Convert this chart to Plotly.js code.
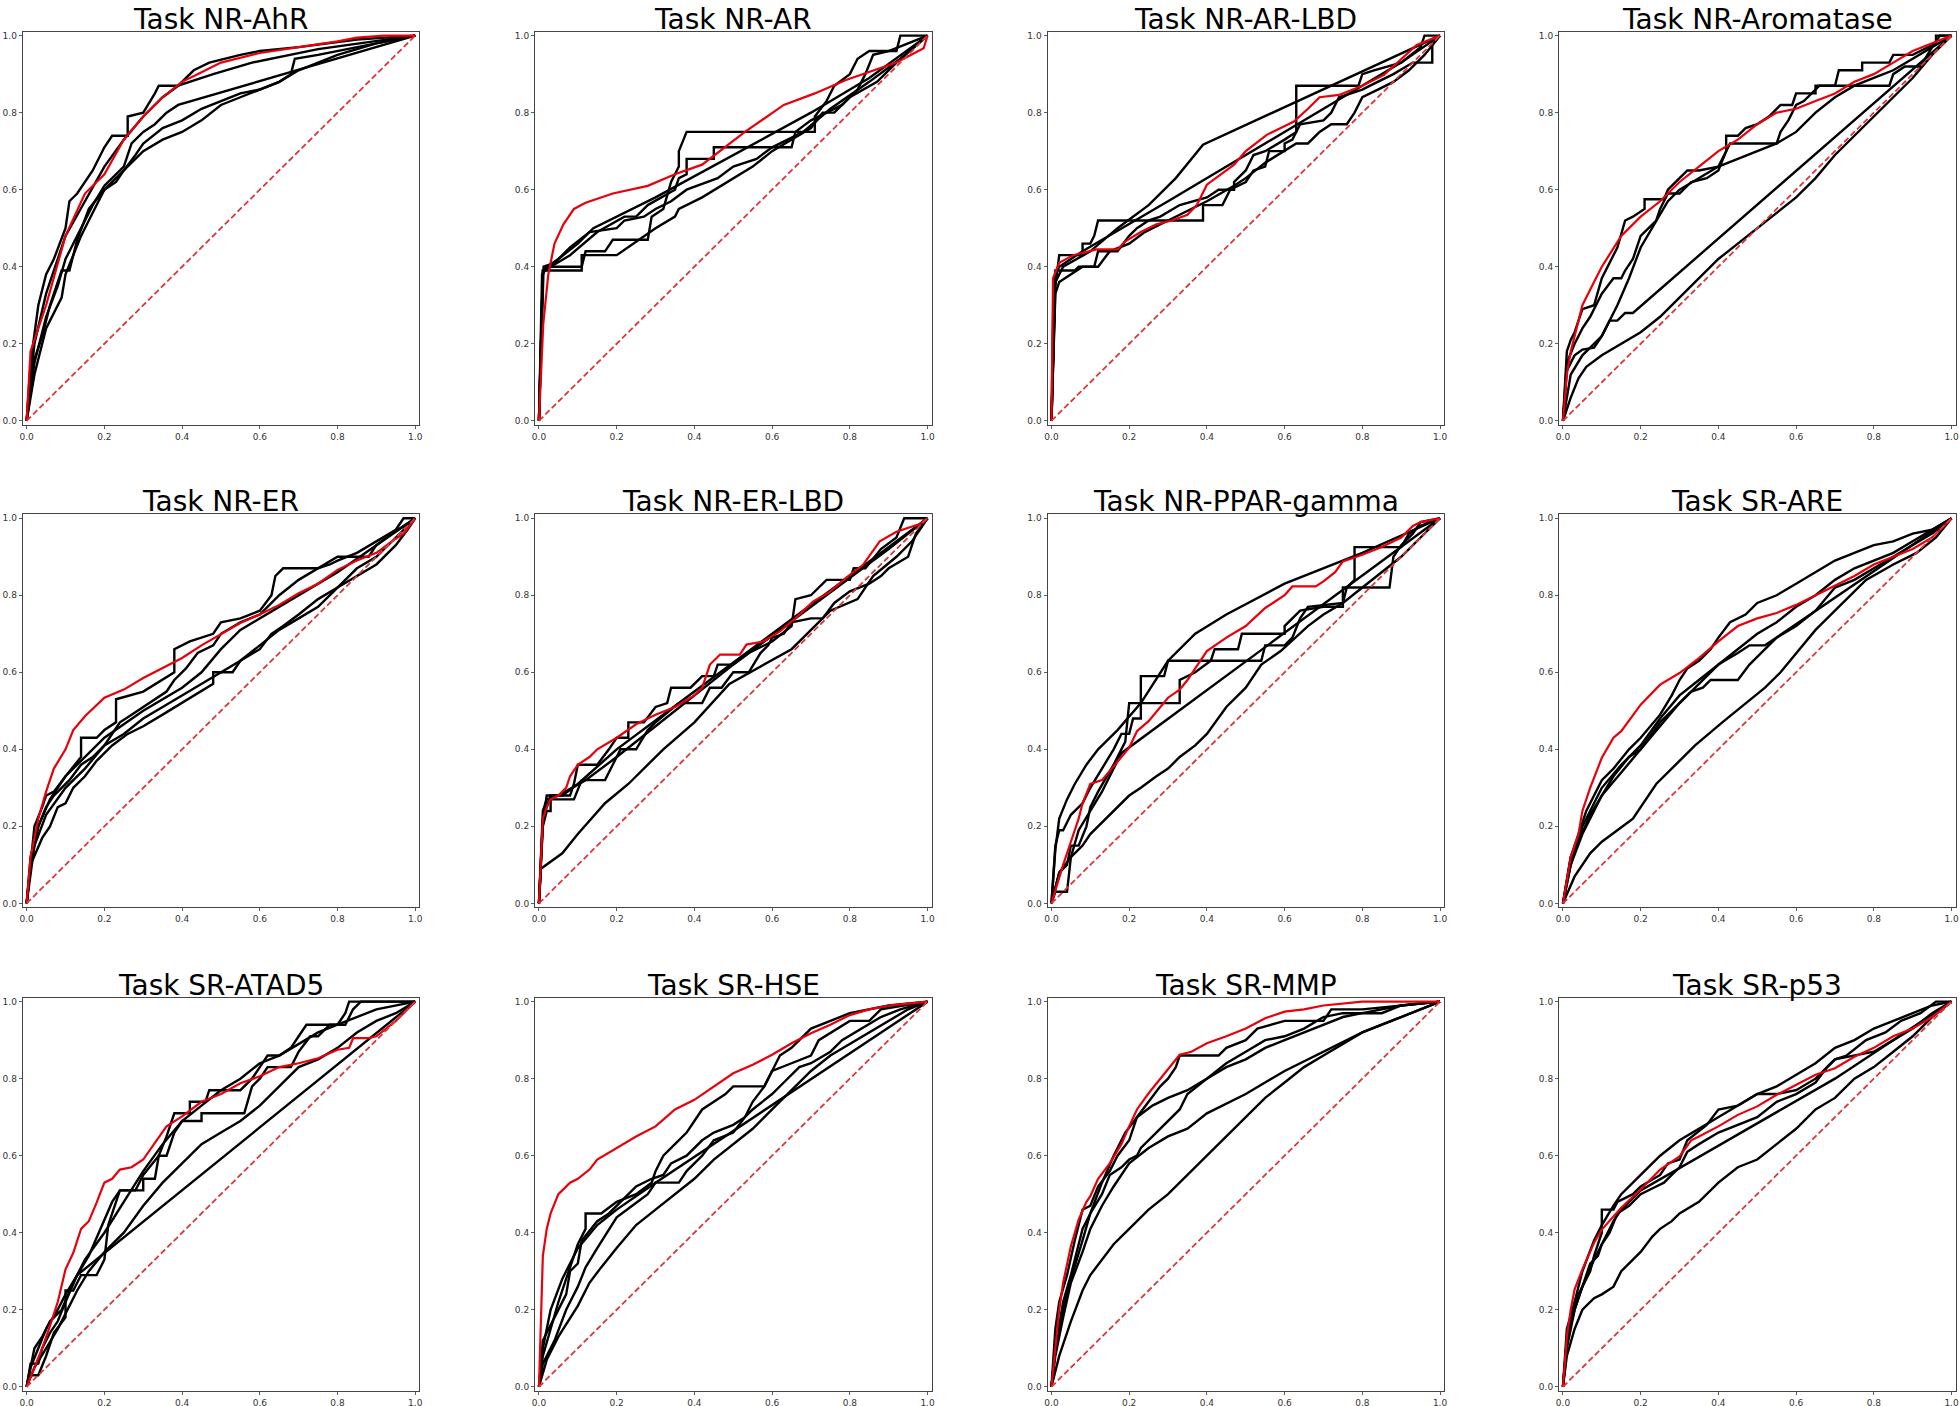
<!DOCTYPE html>
<html><head><meta charset="utf-8">
<script src="https://cdn.plot.ly/plotly-3.0.1.min.js"></script>
<style>html,body{margin:0;padding:0;background:#fff}</style>
</head><body><div id="chart" style="width:1960px;height:1406px"></div>
<script>
// ---- titles ----
const TASKS = ["Task NR-AhR","Task NR-AR","Task NR-AR-LBD","Task NR-Aromatase",
  "Task NR-ER","Task NR-ER-LBD","Task NR-PPAR-gamma","Task SR-ARE",
  "Task SR-ATAD5","Task SR-HSE","Task SR-MMP","Task SR-p53"];
const TICKS = [0,0.2,0.4,0.6,0.8,1.0];
const DIAG = [[0,0],[1,1]];

// ---- NR-AhR ---- (points are [FPR, TPR])
const AHR_B1=[[0,0],[0.01,0.15],[0.03,0.3],[0.05,0.38],[0.07,0.42],[0.1,0.5],[0.11,0.57],[0.13,0.59],[0.17,0.65],[0.2,0.71],[0.22,0.74],[0.26,0.74],[0.26,0.79],[0.3,0.8],[0.33,0.85],[0.34,0.87],[0.39,0.87],[0.43,0.91],[0.47,0.93],[0.55,0.95],[0.6,0.96],[0.7,0.97],[0.85,0.99],[1,1]];
const AHR_B2=[[0,0],[0.02,0.2],[0.05,0.33],[0.1,0.48],[0.15,0.57],[0.2,0.66],[0.25,0.73],[0.3,0.79],[0.35,0.84],[0.39,0.87],[0.48,0.9],[0.58,0.93],[0.75,0.965],[0.9,0.985],[1,1]];
const AHR_B3=[[0,0],[0.01,0.13],[0.04,0.22],[0.06,0.3],[0.09,0.39],[0.11,0.39],[0.13,0.47],[0.16,0.55],[0.2,0.6],[0.23,0.62],[0.25,0.65],[0.28,0.69],[0.3,0.72],[0.35,0.76],[0.4,0.78],[0.45,0.81],[0.5,0.83],[0.55,0.85],[0.6,0.86],[0.65,0.88],[0.68,0.9],[0.69,0.94],[0.75,0.95],[0.85,0.97],[1,1]];
const AHR_B4=[[0,0],[0.02,0.15],[0.05,0.27],[0.08,0.35],[0.1,0.42],[0.14,0.5],[0.17,0.56],[0.2,0.61],[0.25,0.66],[0.27,0.72],[0.3,0.75],[0.33,0.77],[0.36,0.8],[0.39,0.82],[1,1]];
const AHR_B5=[[0,0],[0.02,0.12],[0.05,0.24],[0.09,0.32],[0.1,0.38],[0.14,0.48],[0.17,0.54],[0.2,0.6],[0.25,0.65],[0.3,0.7],[0.35,0.73],[0.4,0.75],[0.45,0.78],[0.5,0.82],[0.55,0.84],[0.6,0.86],[0.65,0.88],[0.7,0.91],[0.8,0.95],[0.9,0.98],[1,1]];
const AHR_RED=[[0,0],[0.01,0.18],[0.05,0.3],[0.1,0.48],[0.15,0.59],[0.2,0.64],[0.25,0.73],[0.3,0.79],[0.35,0.84],[0.4,0.88],[0.45,0.905],[0.5,0.93],[0.6,0.955],[0.7,0.97],[0.8,0.985],[0.85,0.995],[0.92,1],[1,1]];

// ---- NR-AR ----
const AR_B1=[[0,0],[0.008,0.38],[0.02,0.4],[0.11,0.4],[0.12,0.44],[0.17,0.44],[0.19,0.47],[0.28,0.47],[0.29,0.53],[0.32,0.55],[0.34,0.62],[0.36,0.66],[0.36,0.7],[0.38,0.75],[0.71,0.75],[0.71,0.79],[0.74,0.83],[0.76,0.87],[0.8,0.9],[0.82,0.94],[0.85,0.96],[0.92,0.96],[0.93,1],[1,1]];
const AR_B2=[[0,0],[0.01,0.39],[0.03,0.4],[0.08,0.43],[0.15,0.49],[0.22,0.53],[0.25,0.53],[0.28,0.56],[0.35,0.6],[0.36,0.63],[0.38,0.64],[0.38,0.68],[0.45,0.68],[0.45,0.71],[0.65,0.71],[0.66,0.75],[0.7,0.78],[0.78,0.82],[0.82,0.86],[0.84,0.9],[0.86,0.95],[0.9,0.96],[1,1]];
const AR_B3=[[0,0],[0.01,0.38],[0.02,0.4],[0.05,0.42],[0.1,0.46],[0.14,0.5],[0.3,0.58],[0.5,0.69],[0.7,0.8],[0.85,0.89],[1,1]];
const AR_B4=[[0,0],[0.01,0.39],[0.11,0.39],[0.11,0.43],[0.2,0.43],[0.3,0.5],[0.35,0.53],[0.36,0.55],[0.42,0.58],[0.5,0.63],[0.55,0.66],[0.6,0.7],[0.7,0.76],[0.73,0.8],[0.76,0.8],[0.8,0.84],[0.87,0.88],[0.92,0.93],[1,1]];
const AR_B5=[[0,0],[0.012,0.4],[0.04,0.41],[0.08,0.45],[0.13,0.49],[0.2,0.5],[0.22,0.52],[0.27,0.53],[0.3,0.55],[0.34,0.57],[0.38,0.6],[0.46,0.63],[0.5,0.66],[0.56,0.68],[0.6,0.71],[0.68,0.75],[0.75,0.81],[0.85,0.88],[0.93,0.94],[1,1]];
const AR_RED=[[0,0],[0.011,0.25],[0.024,0.38],[0.04,0.46],[0.063,0.51],[0.09,0.55],[0.12,0.566],[0.19,0.59],[0.28,0.61],[0.35,0.64],[0.42,0.665],[0.53,0.75],[0.63,0.82],[0.71,0.85],[0.79,0.885],[0.92,0.93],[0.99,0.967],[1,1]];

// ---- NR-AR-LBD ----
const ARLBD_B1=[[0,0],[0.005,0.32],[0.01,0.36],[0.03,0.4],[0.1,0.44],[0.17,0.5],[0.25,0.56],[0.32,0.63],[0.39,0.717],[1,1]];
const ARLBD_B2=[[0,0],[0.01,0.38],[0.02,0.4],[0.08,0.44],[0.3,0.57],[0.5,0.69],[0.7,0.81],[0.9,0.93],[1,1]];
const ARLBD_B3=[[0,0],[0.01,0.35],[0.02,0.43],[0.08,0.43],[0.08,0.46],[0.1,0.46],[0.11,0.48],[0.12,0.52],[0.25,0.52],[0.28,0.53],[0.33,0.56],[0.4,0.58],[0.43,0.6],[0.47,0.6],[0.47,0.62],[0.5,0.65],[0.52,0.69],[0.55,0.7],[0.6,0.73],[0.63,0.75],[0.63,0.87],[0.79,0.87],[0.8,0.9],[0.83,0.91],[0.9,0.93],[0.95,0.97],[0.96,1],[1,1]];
const ARLBD_B4=[[0,0],[0.01,0.39],[0.06,0.39],[0.07,0.4],[0.11,0.4],[0.12,0.44],[0.17,0.44],[0.2,0.48],[0.22,0.5],[0.25,0.52],[0.39,0.52],[0.39,0.56],[0.44,0.56],[0.46,0.6],[0.5,0.62],[0.52,0.65],[0.55,0.66],[0.56,0.7],[0.6,0.7],[0.6,0.72],[0.62,0.73],[0.64,0.77],[0.7,0.78],[0.72,0.8],[0.74,0.84],[0.8,0.86],[0.82,0.87],[0.88,0.9],[0.93,0.93],[0.98,0.93],[0.98,0.99],[1,1]];
const ARLBD_B5=[[0,0],[0.01,0.33],[0.02,0.36],[0.05,0.38],[0.08,0.4],[0.12,0.4],[0.15,0.44],[0.2,0.46],[0.24,0.49],[0.3,0.52],[0.34,0.54],[0.4,0.57],[0.47,0.61],[0.5,0.63],[0.55,0.67],[0.6,0.7],[0.63,0.72],[0.66,0.72],[0.69,0.75],[0.72,0.77],[0.76,0.77],[0.78,0.8],[0.8,0.84],[0.84,0.86],[0.88,0.88],[0.92,0.91],[0.96,0.95],[1,1]];
const ARLBD_RED=[[0,0],[0.003,0.33],[0.004,0.37],[0.02,0.41],[0.056,0.43],[0.116,0.445],[0.17,0.445],[0.19,0.466],[0.23,0.49],[0.27,0.51],[0.31,0.52],[0.35,0.535],[0.374,0.56],[0.4,0.613],[0.435,0.64],[0.47,0.665],[0.5,0.7],[0.555,0.743],[0.59,0.76],[0.624,0.777],[0.66,0.81],[0.69,0.84],[0.74,0.846],[0.8,0.87],[0.856,0.898],[0.9,0.94],[0.94,0.976],[1,1]];

// ---- NR-Aromatase ----
const ARO_B1=[[0,0],[0.01,0.18],[0.02,0.21],[0.03,0.23],[0.05,0.29],[0.08,0.3],[0.1,0.37],[0.14,0.45],[0.16,0.52],[0.18,0.53],[0.21,0.55],[0.21,0.575],[0.26,0.575],[0.27,0.6],[0.3,0.63],[0.32,0.65],[0.35,0.65],[0.4,0.66],[0.42,0.7],[0.42,0.74],[0.45,0.74],[0.47,0.76],[0.5,0.77],[0.53,0.79],[0.56,0.82],[0.59,0.82],[0.6,0.85],[0.65,0.85],[0.65,0.87],[0.7,0.87],[0.71,0.91],[0.77,0.91],[0.77,0.93],[0.84,0.93],[0.85,0.95],[0.9,0.95],[0.96,0.98],[0.96,1],[1,1]];
const ARO_B2=[[0,0],[0.01,0.15],[0.03,0.2],[0.05,0.24],[0.07,0.27],[0.1,0.33],[0.13,0.37],[0.15,0.37],[0.16,0.39],[0.18,0.42],[0.2,0.48],[0.22,0.5],[0.24,0.52],[0.25,0.55],[0.27,0.59],[0.3,0.59],[0.33,0.62],[0.37,0.63],[0.4,0.65],[0.42,0.7],[0.43,0.72],[0.55,0.72],[0.56,0.75],[0.58,0.78],[0.6,0.82],[0.62,0.83],[0.64,0.85],[0.66,0.87],[0.84,0.87],[0.85,0.9],[0.88,0.92],[0.92,0.92],[0.95,0.97],[0.97,1],[1,1]];
const ARO_B3=[[0,0],[0.01,0.13],[0.03,0.17],[0.05,0.185],[0.08,0.19],[0.1,0.22],[0.14,0.3],[0.17,0.37],[0.2,0.45],[0.23,0.5],[0.27,0.57],[0.3,0.6],[0.35,0.63],[0.4,0.66],[0.45,0.68],[0.5,0.7],[0.55,0.72],[0.6,0.75],[0.65,0.8],[0.7,0.84],[0.75,0.87],[0.8,0.89],[0.85,0.91],[0.9,0.94],[0.95,0.97],[1,1]];
const ARO_B4=[[0,0],[0.02,0.12],[0.05,0.17],[0.08,0.2],[0.1,0.22],[0.12,0.26],[0.14,0.26],[0.16,0.28],[0.18,0.28],[1,1]];
const ARO_B5=[[0,0],[0.02,0.06],[0.04,0.11],[0.06,0.14],[0.1,0.17],[0.15,0.2],[0.2,0.23],[0.25,0.27],[0.3,0.32],[0.35,0.37],[0.4,0.42],[0.45,0.46],[0.5,0.5],[0.55,0.54],[0.6,0.58],[0.65,0.63],[0.7,0.69],[0.75,0.74],[0.8,0.79],[0.85,0.84],[0.9,0.89],[0.95,0.95],[1,1]];
const ARO_RED=[[0,0],[0.01,0.12],[0.02,0.18],[0.05,0.3],[0.08,0.36],[0.1,0.4],[0.15,0.48],[0.2,0.53],[0.25,0.57],[0.3,0.62],[0.35,0.66],[0.4,0.7],[0.45,0.73],[0.5,0.77],[0.55,0.8],[0.6,0.81],[0.65,0.83],[0.7,0.85],[0.75,0.88],[0.8,0.9],[0.85,0.93],[0.9,0.96],[0.95,0.98],[1,1]];

// ---- NR-ER ----
const ER_B1=[[0,0],[0.02,0.2],[0.04,0.25],[0.05,0.28],[0.07,0.29],[0.1,0.33],[0.14,0.38],[0.14,0.43],[0.18,0.43],[0.2,0.45],[0.23,0.47],[0.23,0.53],[0.3,0.55],[0.35,0.58],[0.38,0.6],[0.38,0.66],[0.42,0.68],[0.48,0.7],[0.5,0.73],[0.55,0.74],[0.6,0.76],[0.63,0.8],[0.64,0.85],[0.66,0.87],[0.75,0.87],[0.78,0.88],[0.8,0.89],[0.85,0.91],[0.9,0.94],[0.95,0.97],[0.97,1],[1,1]];
const ER_B2=[[0,0],[0.01,0.1],[0.03,0.2],[0.06,0.27],[0.1,0.33],[0.15,0.38],[0.2,0.43],[0.3,0.5],[0.4,0.56],[0.45,0.6],[0.5,0.66],[0.55,0.71],[0.6,0.74],[0.65,0.77],[0.7,0.8],[0.8,0.86],[0.9,0.93],[1,1]];
const ER_B3=[[0,0],[0.01,0.1],[0.04,0.17],[0.06,0.2],[0.08,0.25],[0.1,0.26],[0.12,0.3],[0.15,0.33],[0.18,0.37],[0.22,0.41],[0.26,0.44],[0.3,0.46],[0.35,0.49],[0.4,0.52],[0.45,0.55],[0.48,0.57],[0.48,0.6],[0.53,0.6],[0.55,0.63],[0.6,0.66],[0.63,0.7],[0.66,0.72],[0.7,0.75],[0.75,0.79],[0.8,0.82],[0.85,0.85],[0.9,0.88],[0.95,0.93],[0.98,0.97],[1,1]];
const ER_B4=[[0,0],[0.02,0.15],[0.05,0.23],[0.1,0.3],[0.15,0.35],[0.2,0.41],[0.25,0.44],[0.3,0.48],[0.35,0.51],[0.4,0.54],[0.45,0.57],[0.5,0.6],[0.55,0.63],[0.6,0.67],[0.65,0.71],[0.7,0.74],[0.75,0.77],[0.8,0.82],[0.85,0.87],[0.9,0.9],[0.95,0.95],[1,1]];
const ER_B5=[[0,0],[0.01,0.12],[0.03,0.2],[0.05,0.25],[0.07,0.28],[0.11,0.32],[0.14,0.36],[0.17,0.38],[0.2,0.41],[0.24,0.47],[0.27,0.49],[0.3,0.51],[0.36,0.55],[0.38,0.58],[0.41,0.61],[0.44,0.65],[0.48,0.67],[0.5,0.7],[0.55,0.73],[0.6,0.75],[0.65,0.8],[0.7,0.84],[0.75,0.87],[0.8,0.9],[0.88,0.9],[0.9,0.93],[0.94,0.96],[1,1]];
const ER_RED=[[0,0],[0.01,0.12],[0.03,0.22],[0.05,0.29],[0.07,0.35],[0.1,0.4],[0.12,0.45],[0.15,0.486],[0.2,0.534],[0.25,0.555],[0.3,0.585],[0.35,0.61],[0.4,0.637],[0.45,0.67],[0.5,0.7],[0.55,0.728],[0.6,0.75],[0.65,0.775],[0.7,0.805],[0.75,0.83],[0.8,0.866],[0.85,0.89],[0.9,0.91],[0.94,0.94],[0.97,0.96],[1,1]];

// ---- NR-ER-LBD ----
const ERLBD_B1=[[0,0],[0.005,0.09],[0.06,0.13],[0.1,0.18],[0.17,0.26],[0.23,0.31],[0.32,0.4],[0.4,0.47],[0.49,0.57],[0.56,0.61],[0.65,0.66],[0.75,0.76],[0.82,0.79],[0.86,0.85],[0.92,0.9],[0.96,0.94],[1,1]];
const ERLBD_B2=[[0,0],[0.01,0.22],[0.03,0.28],[0.06,0.28],[0.1,0.31],[0.2,0.4],[0.4,0.55],[0.6,0.7],[0.8,0.85],[1,1]];
const ERLBD_B3=[[0,0],[0.01,0.24],[0.02,0.27],[0.05,0.28],[0.12,0.32],[0.2,0.38],[0.3,0.46],[0.5,0.62],[0.7,0.77],[0.9,0.92],[1,1]];
const ERLBD_B4=[[0,0],[0.01,0.21],[0.02,0.28],[0.08,0.28],[0.09,0.31],[0.1,0.36],[0.15,0.36],[0.18,0.4],[0.2,0.43],[0.23,0.43],[0.23,0.47],[0.27,0.47],[0.3,0.51],[0.33,0.52],[0.34,0.56],[0.39,0.56],[0.42,0.59],[0.45,0.59],[0.46,0.62],[0.5,0.62],[0.54,0.65],[0.6,0.68],[0.65,0.72],[0.66,0.79],[0.7,0.8],[0.74,0.84],[0.8,0.84],[0.81,0.87],[0.84,0.87],[0.88,0.92],[0.92,0.95],[0.94,1],[1,1]];
const ERLBD_B5=[[0,0],[0.01,0.2],[0.02,0.24],[0.03,0.24],[0.03,0.27],[0.09,0.27],[0.11,0.32],[0.17,0.32],[0.19,0.36],[0.21,0.4],[0.25,0.4],[0.28,0.45],[0.3,0.47],[0.36,0.52],[0.42,0.52],[0.44,0.56],[0.47,0.56],[0.5,0.6],[0.54,0.6],[0.57,0.65],[0.59,0.67],[0.6,0.69],[0.63,0.7],[0.65,0.73],[0.7,0.74],[0.73,0.74],[0.76,0.78],[0.8,0.81],[0.85,0.83],[0.88,0.85],[0.9,0.87],[0.95,0.9],[0.97,0.96],[1,1]];
const ERLBD_RED=[[0,0],[0.01,0.22],[0.02,0.25],[0.03,0.27],[0.05,0.28],[0.07,0.3],[0.08,0.33],[0.1,0.36],[0.13,0.38],[0.15,0.4],[0.2,0.43],[0.25,0.465],[0.3,0.49],[0.35,0.51],[0.4,0.54],[0.42,0.56],[0.44,0.62],[0.466,0.646],[0.517,0.646],[0.534,0.672],[0.577,0.68],[0.62,0.706],[0.66,0.74],[0.706,0.784],[0.75,0.81],[0.79,0.845],[0.834,0.879],[0.877,0.94],[0.92,0.965],[0.98,0.985],[1,1]];

// ---- NR-PPAR-gamma ----
const PPAR_B1=[[0,0],[0.01,0.14],[0.02,0.22],[0.04,0.27],[0.06,0.31],[0.09,0.36],[0.12,0.4],[0.17,0.45],[0.23,0.52],[0.3,0.63],[0.37,0.7],[0.45,0.75],[0.6,0.83],[0.8,0.91],[1,1]];
const PPAR_B2=[[0,0],[0.01,0.03],[0.04,0.03],[0.05,0.12],[0.07,0.19],[0.1,0.24],[0.13,0.29],[0.15,0.33],[0.18,0.39],[1,1]];
const PPAR_B3=[[0,0],[0.01,0.15],[0.02,0.19],[0.03,0.19],[0.05,0.23],[0.08,0.26],[0.1,0.3],[0.13,0.35],[0.16,0.4],[0.18,0.44],[0.2,0.44],[0.21,0.48],[0.23,0.48],[0.23,0.59],[0.29,0.59],[0.3,0.63],[0.54,0.63],[0.55,0.67],[0.6,0.67],[0.62,0.69],[0.64,0.74],[0.66,0.77],[0.75,0.78],[0.76,0.82],[0.78,0.84],[0.78,0.925],[0.9,0.925],[0.92,0.96],[0.95,0.98],[1,1]];
const PPAR_B4=[[0,0],[0.02,0.08],[0.04,0.1],[0.05,0.15],[0.07,0.15],[0.09,0.2],[0.1,0.25],[0.12,0.29],[0.16,0.36],[0.19,0.42],[0.2,0.52],[0.33,0.52],[0.33,0.58],[0.37,0.6],[0.41,0.63],[0.42,0.66],[0.48,0.66],[0.49,0.7],[0.6,0.7],[0.6,0.72],[0.64,0.76],[0.7,0.77],[0.75,0.77],[0.75,0.82],[0.87,0.82],[0.88,0.9],[0.9,0.93],[0.93,0.96],[0.95,0.99],[1,1]];
const PPAR_B5=[[0,0],[0.02,0.08],[0.05,0.12],[0.08,0.15],[0.1,0.18],[0.13,0.21],[0.17,0.25],[0.2,0.28],[0.23,0.3],[0.27,0.33],[0.3,0.35],[0.33,0.38],[0.37,0.41],[0.4,0.44],[0.45,0.51],[0.5,0.56],[0.54,0.62],[0.59,0.655],[0.66,0.72],[0.7,0.75],[0.75,0.78],[0.8,0.82],[0.85,0.86],[0.9,0.9],[0.95,0.95],[1,1]];
const PPAR_RED=[[0,0],[0.02,0.07],[0.03,0.1],[0.05,0.16],[0.07,0.22],[0.08,0.26],[0.1,0.31],[0.13,0.32],[0.15,0.345],[0.18,0.38],[0.2,0.404],[0.22,0.447],[0.25,0.473],[0.28,0.508],[0.3,0.534],[0.33,0.555],[0.35,0.58],[0.37,0.61],[0.4,0.655],[0.45,0.69],[0.5,0.72],[0.55,0.767],[0.6,0.8],[0.62,0.823],[0.68,0.823],[0.7,0.836],[0.73,0.86],[0.75,0.888],[0.8,0.905],[0.85,0.925],[0.9,0.95],[0.93,0.98],[0.95,0.99],[1,1]];

// ---- SR-ARE ----
const ARE_B1=[[0,0],[0.02,0.12],[0.04,0.18],[0.06,0.24],[0.08,0.28],[0.1,0.32],[0.13,0.35],[0.17,0.4],[0.2,0.43],[0.25,0.49],[0.28,0.54],[0.3,0.58],[0.32,0.61],[0.35,0.63],[0.38,0.66],[0.4,0.69],[0.43,0.73],[0.47,0.75],[0.5,0.78],[0.55,0.8],[0.6,0.83],[0.65,0.86],[0.7,0.89],[0.75,0.91],[0.8,0.93],[0.85,0.94],[0.9,0.96],[0.95,0.97],[1,1]];
const ARE_B2=[[0,0],[0.02,0.1],[0.05,0.2],[0.08,0.26],[0.1,0.3],[0.15,0.36],[0.2,0.41],[0.25,0.48],[0.3,0.54],[0.35,0.58],[0.4,0.62],[0.45,0.66],[0.5,0.7],[0.55,0.73],[0.6,0.77],[0.65,0.8],[0.7,0.84],[0.75,0.87],[0.8,0.89],[0.85,0.91],[0.9,0.94],[0.95,0.97],[1,1]];
const ARE_B3=[[0,0],[0.02,0.12],[0.04,0.16],[0.07,0.23],[0.1,0.28],[0.13,0.33],[0.17,0.38],[0.2,0.4],[0.25,0.47],[0.3,0.52],[0.33,0.55],[0.36,0.56],[0.38,0.58],[0.45,0.58],[0.48,0.62],[0.52,0.66],[0.55,0.69],[0.6,0.72],[0.65,0.76],[0.7,0.82],[0.75,0.84],[0.8,0.87],[0.85,0.9],[0.9,0.93],[0.95,0.96],[1,1]];
const ARE_B4=[[0,0],[0.02,0.1],[0.05,0.18],[0.08,0.24],[0.1,0.28],[0.15,0.34],[0.2,0.4],[0.25,0.46],[0.3,0.52],[0.35,0.57],[0.4,0.62],[0.45,0.65],[0.48,0.67],[0.52,0.67],[1,1]];
const ARE_B5=[[0,0],[0.03,0.07],[0.07,0.13],[0.1,0.16],[0.14,0.19],[0.18,0.22],[0.24,0.31],[0.3,0.37],[0.34,0.41],[0.41,0.47],[0.46,0.51],[0.52,0.56],[0.56,0.6],[0.6,0.65],[0.65,0.71],[0.7,0.76],[0.78,0.84],[0.85,0.88],[0.91,0.91],[0.96,0.95],[1,1]];
const ARE_RED=[[0,0],[0.02,0.12],[0.04,0.18],[0.05,0.24],[0.07,0.3],[0.1,0.378],[0.13,0.43],[0.15,0.447],[0.2,0.516],[0.25,0.568],[0.3,0.598],[0.35,0.637],[0.4,0.68],[0.45,0.72],[0.5,0.74],[0.55,0.754],[0.6,0.775],[0.65,0.8],[0.7,0.827],[0.75,0.85],[0.8,0.88],[0.85,0.9],[0.9,0.92],[0.95,0.95],[1,1]];

// ---- SR-ATAD5 ----
const ATAD5_B1=[[0,0],[0.01,0.06],[0.03,0.06],[0.04,0.1],[0.06,0.14],[0.08,0.17],[0.1,0.22],[0.12,0.27],[0.13,0.29],[0.16,0.34],[0.19,0.41],[0.22,0.48],[0.24,0.51],[0.28,0.51],[0.3,0.55],[0.34,0.6],[0.36,0.65],[0.38,0.71],[0.42,0.71],[0.42,0.74],[0.46,0.74],[0.47,0.77],[0.55,0.77],[0.58,0.8],[0.6,0.83],[0.62,0.86],[0.65,0.86],[0.68,0.88],[0.7,0.91],[0.72,0.94],[0.8,0.94],[0.82,0.97],[0.83,1],[0.87,1],[1,1]];
const ATAD5_B2=[[0,0],[0.02,0.1],[0.04,0.13],[0.06,0.17],[0.09,0.2],[0.12,0.27],[0.15,0.33],[0.2,0.4],[0.25,0.48],[0.3,0.56],[0.35,0.63],[0.4,0.69],[0.45,0.73],[0.5,0.77],[0.55,0.8],[0.6,0.84],[0.65,0.86],[0.7,0.89],[0.75,0.92],[0.8,0.94],[0.85,0.96],[0.9,0.98],[1,1]];
const ATAD5_B3=[[0,0],[0.01,0.03],[0.03,0.03],[0.05,0.08],[0.07,0.14],[0.1,0.18],[0.1,0.25],[0.12,0.25],[0.14,0.29],[0.18,0.29],[0.2,0.33],[0.21,0.42],[0.24,0.51],[0.3,0.51],[0.3,0.54],[0.33,0.54],[0.34,0.6],[0.36,0.6],[0.38,0.66],[0.4,0.69],[0.45,0.69],[0.45,0.71],[0.56,0.71],[0.58,0.78],[0.6,0.8],[0.62,0.83],[0.68,0.83],[0.7,0.87],[0.73,0.91],[0.75,0.91],[0.78,0.94],[0.82,0.94],[0.84,0.98],[0.86,1],[1,1]];
const ATAD5_B4=[[0,0],[0.02,0.05],[0.05,0.1],[0.08,0.15],[0.1,0.19],[0.13,0.25],[0.16,0.3],[0.2,0.35],[0.25,0.4],[0.3,0.47],[0.35,0.53],[0.4,0.58],[0.45,0.63],[0.5,0.66],[0.55,0.69],[0.6,0.73],[0.65,0.78],[0.7,0.83],[0.75,0.85],[0.8,0.88],[0.85,0.92],[0.9,0.95],[0.95,0.97],[1,1]];
const ATAD5_B5=[[0,0],[0.01,0.05],[0.03,0.1],[0.05,0.15],[0.08,0.2],[0.1,0.24],[0.13,0.29],[1,1]];
const ATAD5_RED=[[0,0],[0.02,0.05],[0.04,0.1],[0.06,0.158],[0.08,0.22],[0.1,0.305],[0.12,0.348],[0.14,0.41],[0.16,0.43],[0.18,0.478],[0.2,0.53],[0.22,0.54],[0.24,0.564],[0.27,0.57],[0.3,0.59],[0.33,0.633],[0.36,0.676],[0.4,0.702],[0.45,0.74],[0.5,0.76],[0.55,0.788],[0.6,0.806],[0.65,0.83],[0.7,0.84],[0.75,0.853],[0.8,0.875],[0.83,0.88],[0.84,0.905],[0.88,0.905],[0.9,0.91],[0.95,0.95],[1,1]];

// ---- SR-HSE ----
const HSE_B1=[[0,0],[0.01,0.08],[0.03,0.15],[0.05,0.22],[0.07,0.28],[0.1,0.37],[0.12,0.41],[0.12,0.45],[0.16,0.45],[0.2,0.48],[0.25,0.5],[0.29,0.53],[0.3,0.56],[0.32,0.6],[0.35,0.63],[0.38,0.66],[0.4,0.69],[0.42,0.72],[0.45,0.74],[0.48,0.76],[0.5,0.78],[0.58,0.78],[0.6,0.82],[0.62,0.86],[0.65,0.88],[0.68,0.91],[0.7,0.93],[0.75,0.95],[0.8,0.97],[0.9,0.99],[1,1]];
const HSE_B2=[[0,0],[0.01,0.06],[0.04,0.12],[0.07,0.2],[0.1,0.26],[0.12,0.31],[0.15,0.36],[0.18,0.41],[0.2,0.44],[0.24,0.47],[0.28,0.5],[0.3,0.53],[0.36,0.53],[0.38,0.56],[0.42,0.6],[0.45,0.64],[0.5,0.66],[0.53,0.7],[0.55,0.74],[0.58,0.78],[0.6,0.82],[0.65,0.84],[0.7,0.86],[0.72,0.9],[0.8,0.95],[0.85,0.95],[0.88,0.98],[1,1]];
const HSE_B3=[[0,0],[0.01,0.1],[0.03,0.2],[0.06,0.28],[0.1,0.36],[0.15,0.42],[0.2,0.46],[0.3,0.53],[1,1]];
const HSE_B4=[[0,0],[0.02,0.07],[0.05,0.13],[0.08,0.18],[0.1,0.21],[0.13,0.27],[0.16,0.31],[0.2,0.36],[0.25,0.42],[0.3,0.46],[0.35,0.5],[0.4,0.54],[0.45,0.59],[0.5,0.63],[0.55,0.67],[0.6,0.72],[0.65,0.77],[0.7,0.82],[0.75,0.86],[0.8,0.89],[0.85,0.92],[0.9,0.95],[0.95,0.98],[1,1]];
const HSE_B5=[[0,0],[0.01,0.12],[0.03,0.16],[0.05,0.2],[0.07,0.24],[0.08,0.3],[0.1,0.32],[0.11,0.38],[0.15,0.43],[0.18,0.45],[0.2,0.47],[0.22,0.49],[0.25,0.52],[0.29,0.54],[0.32,0.55],[0.34,0.58],[0.38,0.6],[0.42,0.64],[0.45,0.66],[0.5,0.68],[0.53,0.7],[0.55,0.72],[0.6,0.76],[0.63,0.79],[0.67,0.83],[0.7,0.84],[0.75,0.87],[0.78,0.9],[0.83,0.93],[0.88,0.96],[0.93,0.98],[1,1]];
const HSE_RED=[[0,0],[0.005,0.2],[0.01,0.34],[0.02,0.41],[0.03,0.45],[0.05,0.5],[0.08,0.53],[0.1,0.54],[0.13,0.564],[0.15,0.59],[0.2,0.62],[0.25,0.65],[0.3,0.676],[0.35,0.72],[0.4,0.745],[0.45,0.78],[0.5,0.814],[0.55,0.836],[0.6,0.862],[0.65,0.892],[0.7,0.918],[0.75,0.94],[0.8,0.965],[0.85,0.98],[0.9,0.99],[0.95,0.995],[1,1]];

// ---- SR-MMP ----
const MMP_B1=[[0,0],[0.01,0.1],[0.03,0.2],[0.05,0.28],[0.08,0.38],[0.1,0.45],[0.13,0.53],[0.16,0.6],[0.19,0.66],[0.22,0.7],[0.26,0.73],[0.3,0.75],[0.35,0.77],[0.4,0.8],[0.45,0.83],[0.5,0.85],[0.55,0.88],[0.6,0.9],[0.65,0.92],[0.7,0.94],[0.75,0.96],[0.8,0.97],[0.9,0.99],[1,1]];
const MMP_B2=[[0,0],[0.01,0.15],[0.02,0.22],[0.04,0.29],[0.06,0.38],[0.08,0.46],[0.1,0.47],[0.12,0.52],[0.15,0.56],[0.17,0.6],[0.2,0.64],[0.22,0.7],[0.25,0.74],[0.28,0.78],[0.3,0.8],[0.32,0.83],[0.33,0.86],[0.43,0.86],[0.45,0.88],[0.5,0.9],[0.53,0.93],[0.6,0.95],[0.7,0.95],[0.72,0.98],[0.8,0.98],[0.9,0.99],[1,1]];
const MMP_B3=[[0,0],[0.01,0.1],[0.03,0.22],[0.05,0.29],[0.07,0.37],[0.08,0.41],[0.1,0.45],[0.13,0.5],[0.15,0.55],[0.18,0.57],[0.2,0.59],[0.22,0.6],[0.23,0.62],[0.25,0.64],[0.27,0.66],[0.3,0.69],[0.33,0.72],[0.35,0.76],[0.4,0.8],[0.45,0.84],[0.5,0.87],[0.55,0.9],[0.6,0.91],[0.65,0.93],[0.7,0.96],[0.75,0.97],[0.85,0.97],[0.9,0.99],[1,1]];
const MMP_B4=[[0,0],[0.01,0.08],[0.03,0.18],[0.05,0.27],[0.08,0.35],[0.1,0.41],[0.13,0.47],[0.16,0.52],[0.2,0.58],[0.25,0.62],[0.3,0.65],[0.35,0.67],[0.4,0.71],[0.5,0.76],[0.6,0.82],[0.7,0.87],[0.8,0.92],[0.9,0.96],[1,1]];
const MMP_B5=[[0,0],[0.02,0.08],[0.05,0.17],[0.08,0.25],[0.1,0.29],[0.13,0.33],[0.16,0.37],[0.2,0.41],[0.25,0.46],[0.3,0.5],[0.35,0.55],[0.4,0.6],[0.45,0.65],[0.5,0.7],[0.55,0.75],[0.6,0.79],[0.65,0.83],[0.7,0.86],[0.75,0.89],[0.8,0.92],[0.85,0.94],[0.9,0.96],[0.95,0.98],[1,1]];
const MMP_RED=[[0,0],[0.01,0.1],[0.02,0.2],[0.03,0.27],[0.05,0.365],[0.07,0.434],[0.09,0.48],[0.1,0.495],[0.12,0.54],[0.15,0.58],[0.18,0.63],[0.2,0.676],[0.22,0.72],[0.25,0.762],[0.28,0.8],[0.3,0.823],[0.33,0.862],[0.36,0.87],[0.4,0.892],[0.45,0.91],[0.5,0.93],[0.55,0.957],[0.6,0.974],[0.65,0.98],[0.7,0.99],[0.8,1],[1,1]];

// ---- SR-p53 ----
const P53_B1=[[0,0],[0.01,0.12],[0.03,0.22],[0.05,0.3],[0.08,0.38],[0.1,0.42],[0.13,0.47],[0.15,0.5],[0.2,0.55],[0.25,0.6],[0.3,0.64],[0.35,0.67],[0.4,0.7],[0.45,0.73],[0.5,0.76],[0.55,0.78],[0.6,0.81],[0.65,0.84],[0.7,0.88],[0.75,0.9],[0.8,0.93],[0.85,0.95],[0.9,0.97],[0.95,0.99],[1,1]];
const P53_B2=[[0,0],[0.01,0.15],[0.03,0.22],[0.05,0.26],[0.07,0.3],[0.08,0.34],[0.1,0.4],[0.1,0.46],[0.13,0.46],[0.14,0.48],[0.18,0.5],[0.2,0.52],[0.25,0.55],[0.27,0.58],[0.3,0.59],[0.32,0.64],[0.37,0.68],[0.4,0.72],[0.45,0.73],[0.5,0.76],[0.55,0.76],[0.6,0.77],[0.65,0.8],[0.7,0.85],[0.73,0.86],[0.78,0.9],[0.83,0.92],[0.87,0.95],[0.92,0.97],[0.96,1],[1,1]];
const P53_B3=[[0,0],[0.01,0.1],[0.03,0.2],[0.05,0.26],[0.07,0.32],[0.09,0.34],[0.1,0.37],[0.12,0.4],[0.14,0.45],[0.17,0.47],[0.2,0.5],[0.24,0.52],[0.26,0.53],[0.28,0.55],[0.3,0.57],[0.32,0.61],[0.35,0.63],[0.4,0.66],[0.45,0.68],[0.5,0.7],[0.55,0.74],[0.6,0.76],[0.65,0.79],[0.68,0.83],[0.7,0.85],[0.75,0.86],[0.8,0.87],[0.85,0.9],[0.9,0.93],[0.95,0.97],[1,1]];
const P53_B4=[[0,0],[0.01,0.12],[0.03,0.2],[0.05,0.26],[0.08,0.33],[0.1,0.37],[0.13,0.43],[0.15,0.46],[0.18,0.49],[0.2,0.51],[0.7,0.8],[1,1]];
const P53_B5=[[0,0],[0.01,0.08],[0.03,0.15],[0.05,0.2],[0.08,0.23],[0.1,0.24],[0.13,0.26],[0.15,0.3],[0.18,0.33],[0.2,0.35],[0.23,0.39],[0.25,0.41],[0.28,0.43],[0.3,0.45],[0.35,0.48],[0.4,0.53],[0.45,0.57],[0.5,0.59],[0.55,0.63],[0.6,0.67],[0.65,0.72],[0.7,0.75],[0.75,0.8],[0.8,0.83],[0.85,0.87],[0.9,0.91],[0.95,0.96],[1,1]];
const P53_RED=[[0,0],[0.01,0.13],[0.02,0.2],[0.03,0.253],[0.05,0.305],[0.07,0.35],[0.08,0.374],[0.1,0.408],[0.13,0.443],[0.15,0.465],[0.2,0.512],[0.25,0.564],[0.3,0.598],[0.33,0.64],[0.35,0.65],[0.4,0.676],[0.45,0.706],[0.5,0.728],[0.55,0.758],[0.6,0.784],[0.65,0.81],[0.7,0.827],[0.75,0.857],[0.8,0.88],[0.85,0.91],[0.9,0.93],[0.95,0.96],[1,1]];

// panels (order of TASKS): five black model curves + red curve
const PANEL_BLACK = [
  [AHR_B1,AHR_B2,AHR_B3,AHR_B4,AHR_B5],
  [AR_B1,AR_B2,AR_B3,AR_B4,AR_B5],
  [ARLBD_B1,ARLBD_B2,ARLBD_B3,ARLBD_B4,ARLBD_B5],
  [ARO_B1,ARO_B2,ARO_B3,ARO_B4,ARO_B5],
  [ER_B1,ER_B2,ER_B3,ER_B4,ER_B5],
  [ERLBD_B1,ERLBD_B2,ERLBD_B3,ERLBD_B4,ERLBD_B5],
  [PPAR_B1,PPAR_B2,PPAR_B3,PPAR_B4,PPAR_B5],
  [ARE_B1,ARE_B2,ARE_B3,ARE_B4,ARE_B5],
  [ATAD5_B1,ATAD5_B2,ATAD5_B3,ATAD5_B4,ATAD5_B5],
  [HSE_B1,HSE_B2,HSE_B3,HSE_B4,HSE_B5],
  [MMP_B1,MMP_B2,MMP_B3,MMP_B4,MMP_B5],
  [P53_B1,P53_B2,P53_B3,P53_B4,P53_B5]
];
const PANEL_RED = [AHR_RED,AR_RED,ARLBD_RED,ARO_RED,ER_RED,ERLBD_RED,PPAR_RED,ARE_RED,ATAD5_RED,HSE_RED,MMP_RED,P53_RED];

// ---- layout geometry (pixels) ----
const W = 1960, H = 1406;
const COL_LEFT = [22.7, 535, 1047.5, 1559];
const ROW_TOP = [31.7, 514.3, 997.7];
const BOX_W = 396.5, BOX_H = 393;

const traces = [];
const layout = {
  width: W, height: H,
  margin: {l:0, r:0, t:0, b:0},
  paper_bgcolor: '#ffffff', plot_bgcolor: '#ffffff',
  showlegend: false,
  font: {family: 'DejaVu Sans, sans-serif', color: '#222'},
  annotations: []
};

TASKS.forEach((title, i) => {
  const r = Math.floor(i / 4), c = i % 4;
  const sfx = i === 0 ? '' : String(i + 1);
  const xa = 'x' + sfx, ya = 'y' + sfx;
  const x0 = COL_LEFT[c] / W, x1 = (COL_LEFT[c] + BOX_W) / W;
  const y1 = 1 - ROW_TOP[r] / H, y0 = 1 - (ROW_TOP[r] + BOX_H) / H;
  const axisCommon = {
    range: [-0.0102, 1.0102], tickvals: TICKS, tickformat: '.1f',
    ticks: 'outside', ticklen: 3, tickwidth: 0.8, tickcolor: '#333',
    showline: true, linecolor: '#444', linewidth: 1, mirror: true,
    showgrid: false, zeroline: false, fixedrange: true,
    tickfont: {size: 9, color: '#333', family: 'DejaVu Sans, sans-serif'}
  };
  layout['xaxis' + sfx] = Object.assign({}, axisCommon, {domain: [x0, x1], anchor: ya});
  layout['yaxis' + sfx] = Object.assign({}, axisCommon, {domain: [y0, y1], anchor: xa});

  PANEL_BLACK[i].forEach(pts => {
    traces.push({type: 'scatter', mode: 'lines', xaxis: xa, yaxis: ya,
      x: pts.map(p => p[0]), y: pts.map(p => p[1]),
      line: {color: '#000000', width: 2.4}, hoverinfo: 'skip'});
  });
  const red = PANEL_RED[i];
  traces.push({type: 'scatter', mode: 'lines', xaxis: xa, yaxis: ya,
    x: red.map(p => p[0]), y: red.map(p => p[1]),
    line: {color: '#e8000b', width: 2.2}, hoverinfo: 'skip'});
  traces.push({type: 'scatter', mode: 'lines', xaxis: xa, yaxis: ya,
    x: DIAG.map(p => p[0]), y: DIAG.map(p => p[1]),
    line: {color: '#d9383a', width: 1.8, dash: '6px,3px'}, hoverinfo: 'skip'});

  layout.annotations.push({
    text: title, xref: 'paper', yref: 'paper',
    x: (x0 + x1) / 2, y: y1, xanchor: 'center', yanchor: 'bottom',
    yshift: -6, showarrow: false,
    font: {size: 28, color: '#000', family: 'DejaVu Sans, sans-serif'}
  });
});

Plotly.newPlot('chart', traces, layout, {displayModeBar: false, staticPlot: true});
</script>
</body></html>
